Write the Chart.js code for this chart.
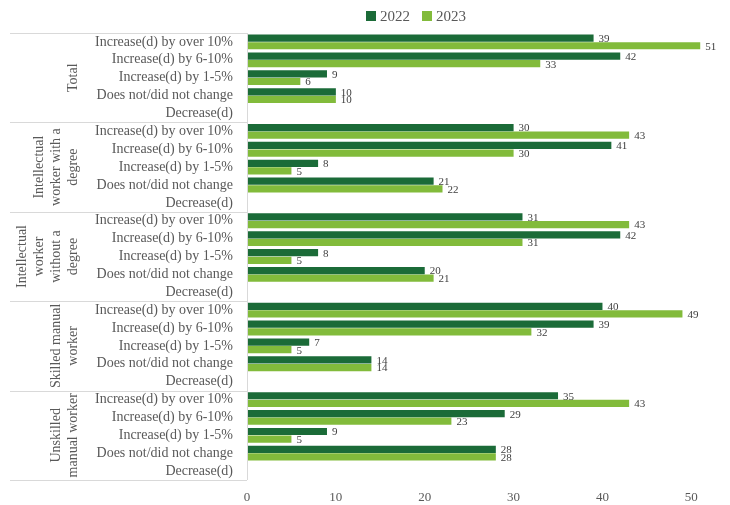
<!DOCTYPE html>
<html>
<head>
<meta charset="utf-8">
<script src="https://cdn.jsdelivr.net/npm/chart.js@4.4.1/dist/chart.umd.min.js"></script>
<style>
  html, body { margin: 0; background: #fff; }
  #wrap { width: 730px; height: 505px; position: relative; }
</style>
</head>
<body>
<div id="wrap"><canvas id="salaryChart"></canvas></div>
<script>
// groups of respondents, each with the same five answers
const groupLines = [
    ['Total'],
    ['Intellectual', 'worker with a', 'degree'],
    ['Intellectual', 'worker', 'without a', 'degree'],
    ['Skilled manual', 'worker'],
    ['Unskilled', 'manual worker'],
];
const answers = [
    'Increase(d) by over 10%',
    'Increase(d) by 6-10%',
    'Increase(d) by 1-5%',
    'Does not/did not change',
    'Decrease(d)',
];
const seriesNames = ['2022', '2023'];
const values2022 = [
    39, 42, 9, 10, null,
    30, 41, 8, 21, null,
    31, 42, 8, 20, null,
    40, 39, 7, 14, null,
    35, 29, 9, 28, null,
];
const values2023 = [
    51, 33, 6, 10, null,
    43, 30, 5, 22, null,
    43, 31, 5, 21, null,
    49, 32, 5, 14, null,
    43, 23, 5, 28, null,
];
const xTicks = [0, 10, 20, 30, 40, 50];

const FONT = "'Liberation Serif', 'DejaVu Serif', serif";
const GREY = '#595959';
const LINE = '#d9d9d9';
const colors = ['#1b6b38', '#82bb3b'];

const labels = groupLines.flatMap(() => answers);

// left-hand grouping: separators, rotated group names, axis line
const groupAxis = {
    id: 'groupAxis',
    afterDraw(chart) {
        const { ctx, chartArea } = chart;
        const y = chart.scales.y;
        const step = y.height / labels.length;
        ctx.save();
        ctx.strokeStyle = LINE;
        ctx.lineWidth = 1;
        ctx.beginPath();
        ctx.moveTo(chartArea.left + 0.5, chartArea.top);
        ctx.lineTo(chartArea.left + 0.5, chartArea.bottom);
        for (let k = 0; k <= groupLines.length; k++) {
            const yy = Math.round(y.top + k * answers.length * step) + 0.5;
            ctx.moveTo(10, yy);
            ctx.lineTo(chartArea.left, yy);
        }
        ctx.stroke();

        ctx.fillStyle = GREY;
        ctx.font = '14px ' + FONT;
        ctx.textAlign = 'center';
        ctx.textBaseline = 'middle';
        groupLines.forEach((lines, k) => {
            const cy = y.top + (k + 0.5) * answers.length * step;
            lines.forEach((txt, i) => {
                const cx = 73 - (lines.length - 1 - i) * 17;
                ctx.save();
                ctx.translate(cx, cy);
                ctx.rotate(-Math.PI / 2);
                ctx.fillText(txt, 0, 0);
                ctx.restore();
            });
        });
        ctx.restore();
    },
};

// value labels at the end of each bar
const barValues = {
    id: 'barValues',
    afterDatasetsDraw(chart) {
        const { ctx } = chart;
        ctx.save();
        ctx.fillStyle = '#404040';
        ctx.font = '11px ' + FONT;
        ctx.textAlign = 'left';
        ctx.textBaseline = 'middle';
        chart.data.datasets.forEach((ds, di) => {
            chart.getDatasetMeta(di).data.forEach((bar, i) => {
                const v = ds.data[i];
                if (v === null) return;
                ctx.fillText(String(v), bar.x + 5, bar.y + 1);
            });
        });
        ctx.restore();
    },
};

// legend drawn centred over the bars
const topLegend = {
    id: 'topLegend',
    afterDraw(chart) {
        const { ctx } = chart;
        ctx.save();
        ctx.font = '15px ' + FONT;
        ctx.textBaseline = 'middle';
        let x = 366;
        const cy = 16;
        seriesNames.forEach((name, i) => {
            ctx.fillStyle = colors[i];
            ctx.fillRect(x, cy - 5, 10, 10);
            ctx.fillStyle = GREY;
            ctx.fillText(name, x + 14, cy + 1);
            x += 14 + ctx.measureText(name).width + 12;
        });
        ctx.restore();
    },
};

new Chart(document.getElementById('salaryChart'), {
    type: 'bar',
    data: {
        labels: labels,
        datasets: [
            { label: seriesNames[0], data: values2022, backgroundColor: colors[0] },
            { label: seriesNames[1], data: values2023, backgroundColor: colors[1] },
        ],
    },
    options: {
        indexAxis: 'y',
        responsive: true,
        maintainAspectRatio: false,
        animation: false,
        categoryPercentage: 0.85,
        barPercentage: 0.95,
        layout: { padding: { top: 33, right: 12, bottom: 0, left: 0 } },
        plugins: {
            legend: { display: false },
            tooltip: { enabled: false },
        },
        scales: {
            x: {
                min: 0,
                max: 53,
                grid: { display: false, drawTicks: false },
                border: { display: false },
                afterBuildTicks: (scale) => { scale.ticks = xTicks.map(v => ({ value: v })); },
                afterFit: (scale) => { scale.height = 25; },
                ticks: { color: GREY, padding: 10, font: { family: FONT, size: 13 } },
            },
            y: {
                grid: { display: false, drawTicks: false },
                border: { display: false },
                afterFit: (scale) => { scale.width = 247; },
                ticks: { color: GREY, padding: 14, autoSkip: false, font: { family: FONT, size: 14 } },
            },
        },
    },
    plugins: [groupAxis, barValues, topLegend],
});
</script>
</body>
</html>
